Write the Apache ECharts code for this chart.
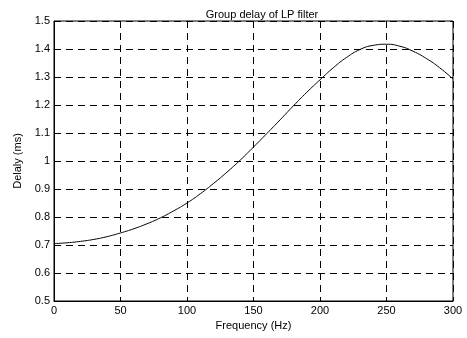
<!DOCTYPE html>
<html>
<head>
<meta charset="utf-8">
<script src="https://cdn.jsdelivr.net/npm/echarts@6/dist/echarts.min.js"></script>
<style>
  html, body { margin: 0; padding: 0; background: #fff; }
  #charts { width: 467px; height: 338px; }
</style>
</head>
<body>
<div id="charts"></div>
<script>
// frequency (Hz) and group delay (ms)
var freq = [0, 10, 20, 30, 40, 50, 60, 70, 80, 90, 100, 110, 120, 130, 140, 150,
  160, 170, 180, 190, 200, 210, 220, 230, 240, 250, 260, 270, 280, 290, 300];
var delay = [0.705, 0.708, 0.713, 0.720, 0.730, 0.743, 0.758, 0.776, 0.797, 0.822,
  0.850, 0.883, 0.920, 0.960, 1.003, 1.050, 1.098, 1.147, 1.197, 1.245, 1.290,
  1.333, 1.370, 1.398, 1.413, 1.417, 1.410, 1.392, 1.366, 1.333, 1.293];

var chart = echarts.init(document.getElementById('charts'));
var font = 'Liberation Sans, Arial, sans-serif';
var points = freq.map(function (f, i) { return [f, delay[i]]; });

var option = {
  backgroundColor: '#fff',
  animation: false,
  title: {
    text: 'Group delay of LP filter',
    left: 257,
    top: 4,
    textAlign: 'center',
    textStyle: { fontFamily: font, fontSize: 11, fontWeight: 'normal', color: '#000' }
  },
  grid: {
    left: 54, right: 14, top: 21, bottom: 37,
    show: true, borderColor: '#000', borderWidth: 1
  },
  xAxis: {
    type: 'value',
    min: 0, max: 300, interval: 50,
    name: 'Frequency (Hz)',
    nameLocation: 'middle',
    nameGap: 17,
    nameTextStyle: { fontFamily: font, fontSize: 11, color: '#000' },
    axisLine: { show: true, lineStyle: { color: '#000', width: 1 } },
    axisTick: { show: true, inside: true, length: 4, lineStyle: { color: '#000' } },
    axisLabel: { margin: 4, fontFamily: font, fontSize: 11, color: '#000' },
    splitLine: { show: true, lineStyle: { color: '#000', type: [7, 5], width: 1 } }
  },
  yAxis: {
    type: 'value',
    min: 0.5, max: 1.5, interval: 0.1,
    name: 'Delaly (ms)',
    nameLocation: 'middle',
    nameGap: 28,
    nameTextStyle: { fontFamily: font, fontSize: 11, color: '#000' },
    axisLine: { show: true, lineStyle: { color: '#000', width: 1 } },
    axisTick: { show: true, inside: true, length: 4, lineStyle: { color: '#000' } },
    axisLabel: {
      margin: 4, fontFamily: font, fontSize: 11, color: '#000',
      formatter: function (v) { return String(Math.round(v * 10) / 10); }
    },
    splitLine: { show: true, lineStyle: { color: '#000', type: [7, 5], width: 1 } }
  },
  series: [
    {
      type: 'line',
      data: points,
      smooth: true,
      showSymbol: false,
      lineStyle: { color: '#000', width: 1 }
    }
  ]
};
chart.setOption(option);
</script>
</body>
</html>
